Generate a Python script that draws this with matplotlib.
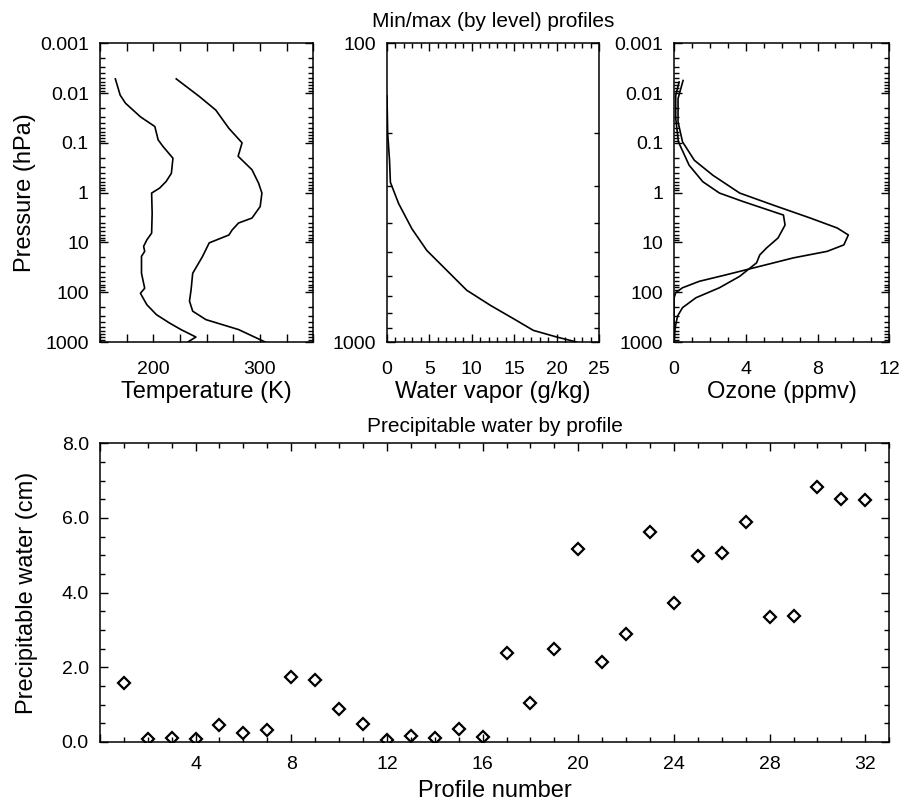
import matplotlib
matplotlib.use('Agg')
import matplotlib.pyplot as plt
import matplotlib.ticker as mticker
import numpy as np

plt.rcParams['font.family'] = ['Liberation Sans', 'DejaVu Sans']

# temperature min/max profiles (K vs hPa)
tmin_t = [164.5, 169, 174, 188, 201.5, 204.6, 209, 218.5, 217, 212, 206, 198.5, 199, 198.5,
          194, 191, 192, 189, 189, 191, 192, 188, 194, 203, 215.4, 226, 240, 232.4]
tmin_p = [0.0052, 0.011, 0.016, 0.030, 0.047, 0.087, 0.117, 0.204, 0.41, 0.60, 0.81, 1.02,
          2.6, 6.5, 8.9, 12.0, 15.1, 19.0, 41.7, 66.1, 83.2, 105, 178, 282, 417, 562, 794, 1000]
tmax_t = [221.6, 243.2, 258.6, 271, 283.3, 279.6, 292.6, 298.8, 301.9, 300.3, 292.6, 280,
          274, 271, 252.5, 246.3, 237, 235.5, 234, 237, 249.4, 280, 305]
tmax_p = [0.0052, 0.0117, 0.0219, 0.0513, 0.1, 0.186, 0.347, 0.646, 1.02, 1.9, 3.24, 4.07,
          5.62, 7.08, 10.2, 19.0, 41.7, 89.1, 151, 240, 355, 562, 1000]

# water vapor (g/kg vs hPa)
wv = [0.0, 0.08, 0.3, 0.4, 1.37, 2.94, 4.7, 7.06, 9.4, 12.2, 14.9, 17.25, 20.0, 22.35]
wv_p = [150, 200, 247, 292, 344, 418, 494, 576, 671, 754, 835, 914, 962, 1000]

# ozone profiles (ppmv vs hPa)
oz_a = [0.28, 0.09, 0.09, 0.24, 0.84, 1.6, 2.53, 3.85, 6.1, 6.19, 5.8, 5.16, 4.78, 4.6,
        3.66, 2.53, 1.22, 0.47, 0.19, 0.06, 0.0]
oz_a_p = [0.006, 0.0112, 0.0324, 0.0955, 0.282, 0.603, 1.02, 1.51, 2.82, 4.47, 8.13, 12.9,
          17.8, 25.7, 47.9, 81.3, 129, 204, 302, 513, 1000]
oz_b = [0.5, 0.22, 0.22, 0.47, 1.13, 2.16, 3.66, 5.53, 7.6, 9.1, 9.72, 9.47, 8.54, 6.66,
        4.78, 2.9, 1.41, 0.47, 0.09, 0.0, 0.0]
oz_b_p = [0.0056, 0.0129, 0.038, 0.0955, 0.224, 0.447, 1.02, 1.78, 3.24, 5.13, 7.08, 11.2,
          15.1, 20.4, 30.2, 44.7, 60.3, 81.3, 102, 129, 1000]

# precipitable water per profile (cm)
profile = np.arange(1, 33)
pwater = [1.59, 0.07, 0.10, 0.07, 0.45, 0.23, 0.32, 1.73, 1.66, 0.88, 0.48, 0.05, 0.16,
          0.10, 0.34, 0.14, 2.37, 1.05, 2.48, 5.18, 2.15, 2.88, 5.62, 3.71, 4.97, 5.06,
          5.89, 3.35, 3.38, 6.84, 6.50, 6.48]

TICK_FS = 14
LABEL_FS = 17
TITLE_FS = 15


def style_axes(ax):
    for s in ax.spines.values():
        s.set_linewidth(1.1)
    ax.tick_params(which='both', direction='in', top=True, right=True, width=1.0,
                   labelsize=TICK_FS)
    ax.tick_params(which='major', length=6)
    ax.tick_params(which='minor', length=3.5)
    ax.tick_params(axis='x', which='both', pad=14)
    ax.tick_params(axis='y', which='both', pad=8)


def log_pressure(ax, top, bottom, labels):
    ax.set_yscale('log')
    ax.set_ylim(bottom, top)
    ax.yaxis.set_major_locator(mticker.FixedLocator(labels))
    ax.yaxis.set_major_formatter(mticker.FuncFormatter(lambda v, pos: '%g' % v))
    ax.yaxis.set_minor_locator(mticker.LogLocator(base=10, subs=np.arange(2, 10), numticks=100))
    ax.yaxis.set_minor_formatter(mticker.NullFormatter())


fig = plt.figure(figsize=(9, 8.01), dpi=100)

decades = [0.001, 0.01, 0.1, 1, 10, 100, 1000]

ax1 = fig.add_axes([0.111, 0.573, 0.237, 0.373])
ax1.plot(tmin_t, tmin_p, color='black', lw=1.2)
ax1.plot(tmax_t, tmax_p, color='black', lw=1.2)
log_pressure(ax1, 0.001, 1000, decades)
ax1.set_xlim(150, 350)
ax1.xaxis.set_major_locator(mticker.FixedLocator([200, 300]))
ax1.xaxis.set_minor_locator(mticker.MultipleLocator(25))
style_axes(ax1)
ax1.tick_params(axis='x', which='minor', length=6)
ax1.set_xlabel('Temperature (K)', fontsize=LABEL_FS, labelpad=2)
ax1.set_ylabel('Pressure (hPa)', fontsize=LABEL_FS)
ax1.yaxis.set_label_coords(-0.30, 0.5)

ax2 = fig.add_axes([0.43, 0.573, 0.2356, 0.373])
ax2.plot(wv, wv_p, color='black', lw=1.2)
log_pressure(ax2, 100, 1000, [100, 1000])
ax2.set_xlim(0, 25)
ax2.xaxis.set_major_locator(mticker.MultipleLocator(5))
ax2.xaxis.set_minor_locator(mticker.MultipleLocator(1))
style_axes(ax2)
ax2.set_xlabel('Water vapor (g/kg)', fontsize=LABEL_FS, labelpad=2)
ax2.set_title('Min/max (by level) profiles', fontsize=TITLE_FS, pad=12)

ax3 = fig.add_axes([0.749, 0.573, 0.239, 0.373])
ax3.plot(oz_a, oz_a_p, color='black', lw=1.2)
ax3.plot(oz_b, oz_b_p, color='black', lw=1.2)
log_pressure(ax3, 0.001, 1000, decades)
ax3.set_xlim(0, 12)
ax3.xaxis.set_major_locator(mticker.MultipleLocator(4))
ax3.xaxis.set_minor_locator(mticker.MultipleLocator(1))
style_axes(ax3)
ax3.set_xlabel('Ozone (ppmv)', fontsize=LABEL_FS, labelpad=2)

ax4 = fig.add_axes([0.111, 0.0737, 0.877, 0.373])
ax4.plot(profile, pwater, linestyle='none', marker='D', markersize=6.5,
         markerfacecolor='none', markeredgecolor='black', markeredgewidth=1.6)
ax4.set_xlim(0, 33)
ax4.set_ylim(0, 8)
ax4.xaxis.set_major_locator(mticker.MultipleLocator(4))
ax4.xaxis.set_major_formatter(mticker.FuncFormatter(lambda v, pos: '' if v == 0 else '%d' % v))
ax4.xaxis.set_minor_locator(mticker.MultipleLocator(1))
ax4.yaxis.set_major_locator(mticker.MultipleLocator(2))
ax4.yaxis.set_major_formatter(mticker.FormatStrFormatter('%.1f'))
ax4.yaxis.set_minor_locator(mticker.MultipleLocator(0.5))
style_axes(ax4)
ax4.tick_params(axis='x', which='both', pad=10)
ax4.set_xlabel('Profile number', fontsize=LABEL_FS, labelpad=5)
ax4.set_ylabel('Precipitable water (cm)', fontsize=LABEL_FS)
ax4.yaxis.set_label_coords(-0.078, 0.5)
ax4.set_title('Precipitable water by profile', fontsize=TITLE_FS, pad=8)

fig.savefig('out.png', dpi=100)
